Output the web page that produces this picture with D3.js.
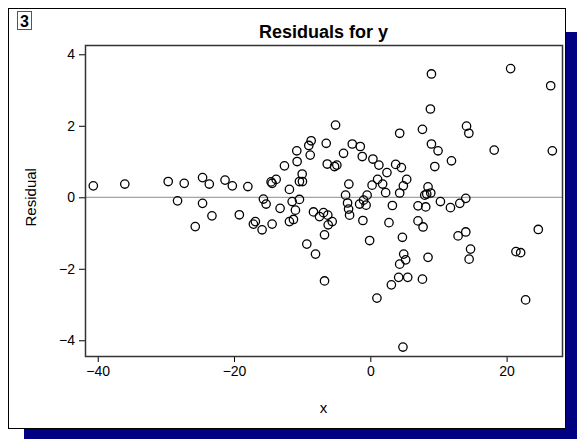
<!DOCTYPE html>
<html>
<head>
<meta charset="utf-8">
<script src="https://cdn.jsdelivr.net/npm/d3@7"></script>
<style>
  body { margin: 0; background: #fff; }
  svg text { font-family: Arial, "Liberation Sans", sans-serif; fill: #000; }
  .tick text { font-size: 14px; }
  .label { font-size: 15px; }
  #title { font-size: 18px; font-weight: bold; }
</style>
</head>
<body>
<div id="container"></div>
<script>
// tick values
var xTicks = [-40, -20, 0, 20];
var yTicks = [-4, -2, 0, 2, 4];

// x of each observation
var xs = [
  -40.65, -36.03, -29.66, -27.31, -24.62, -23.63, -21.32, -20.25, -17.97, -28.29,
  -24.62, -23.24, -19.22, -25.69, -17.16, -16.87, -15.88, -14.41, -15.69, -15.29,
  -14.56, -14.41, -13.82, -13.24, -12.60, -11.87, -11.47, -10.99, -10.79, -10.74,
  -10.40, -10.00, -9.96, -10.40, -9.03, -8.68, -8.82, -8.34, -11.87, -11.28,
  -7.46, -6.87, -6.24, -5.59, -6.18, -6.72, -9.32, -8.04, -6.72, -6.47,
  -6.32, -5.25, -4.91, -5.10, -3.93, -3.63, -3.34, -3.19, -3.04, -3.15,
  -2.65, -1.47, -1.18, -1.57, -0.99, -0.62, -0.47, -1.09, -0.10, 0.38,
  1.26, 2.44, 1.07, 1.81, 0.26, 2.25, 0.97, 2.74, 3.24, 3.72,
  4.56, 4.31, 4.31, 5.34, 4.85, 4.71, 4.90, 5.19, 4.31, 4.16,
  5.49, 3.09, 4.79, 7.00, 8.13, 7.00, 7.74, 7.65, 8.47, 7.65,
  8.82, 8.97, 8.97, 9.94, 9.46, 11.91, 8.47, 7.99, 8.28, 8.87,
  10.29, 11.76, 13.13, 14.01, 12.88, 14.01, 14.71, 14.50, 14.12, 14.46,
  18.18, 20.59, 26.47, 26.71, 24.65, 21.37, 22.06, 22.79
];

// residual for each observation, same order as xs
var residuals = [
  0.32, 0.37, 0.44, 0.39, 0.55, 0.37, 0.48, 0.32, 0.30, -0.10,
  -0.17, -0.52, -0.49, -0.82, -0.75, -0.68, -0.91, -0.75, -0.05, -0.19,
  0.43, 0.39, 0.50, -0.31, 0.88, 0.22, -0.12, -0.36, 1.30, 1.00,
  0.44, 0.65, 0.44, -0.06, 1.45, 1.58, 1.18, -0.41, -0.68, -0.62,
  -0.54, -0.43, -0.50, -0.68, -0.77, -1.05, -1.31, -1.59, -2.34, 1.51,
  0.93, 0.86, 0.90, 2.02, 1.23, 0.06, -0.16, -0.33, -0.50, 0.37,
  1.49, 1.42, 1.14, -0.19, -0.08, -0.22, 0.06, -0.65, -1.21, 1.07,
  0.90, 0.69, 0.50, 0.37, 0.34, 0.13, -2.82, -0.71, -0.23, 0.92,
  0.83, 1.79, 0.12, 0.50, 0.32, -1.12, -1.59, -1.75, -1.87, -2.24,
  -2.24, -2.45, -4.19, -0.24, -0.27, -0.66, -0.83, -2.29, -1.68, 1.90,
  2.47, 3.45, 1.49, 1.30, 0.86, 1.02, 0.29, 0.06, 0.09, 0.12,
  -0.12, -0.29, -0.17, -0.03, -1.08, -0.97, -1.45, -1.73, 1.99, 1.79,
  1.32, 3.60, 3.12, 1.30, -0.90, -1.52, -1.55, -2.87
];

var data = xs.map(function (x, i) { return { x: x, r: residuals[i] }; });

var width = 577;
var height = 439;
var margin = { left: 85, top: 45, right: 15, bottom: 83 };

var svg = d3.select("#container")
            .append("svg")
            .attr("width", width)
            .attr("height", height);

// panel with navy drop shadow
svg.append("rect")
   .attr("x", 24).attr("y", 32)
   .attr("width", width - 24).attr("height", height - 32)
   .attr("fill", "#000080");

svg.append("rect")
   .attr("x", 8.5).attr("y", 8.5)
   .attr("width", 557).attr("height", 420)
   .attr("fill", "#fff")
   .attr("stroke", "#000")
   .attr("stroke-width", 1);

// little "3" badge in the corner
svg.append("rect")
   .attr("x", 17.5).attr("y", 11.5)
   .attr("width", 14).attr("height", 18)
   .attr("fill", "#fff")
   .attr("stroke", "#555");

svg.append("text")
   .attr("x", 24.5).attr("y", 27)
   .attr("text-anchor", "middle")
   .style("font-size", "16px")
   .style("font-weight", "bold")
   .text("3");

// scales
var xScale = d3.scaleLinear()
               .domain([-41.87, 28.13])
               .range([margin.left, width - margin.right]);

var yScale = d3.scaleLinear()
               .domain([-4.44, 4.26])
               .range([height - margin.bottom, margin.top]);

// axes
var xAxis = d3.axisBottom(xScale).tickValues(xTicks).tickSize(6).tickPadding(4);
var yAxis = d3.axisLeft(yScale).tickValues(yTicks).tickSize(6).tickPadding(4);

svg.append("g")
   .attr("transform", "translate(0," + (height - margin.bottom) + ")")
   .call(xAxis)
   .call(g => g.select(".domain").remove());

svg.append("g")
   .attr("transform", "translate(" + margin.left + ",0)")
   .call(yAxis)
   .call(g => g.select(".domain").remove());

// zero reference line
svg.append("line")
   .attr("x1", margin.left).attr("x2", width - margin.right)
   .attr("y1", yScale(0)).attr("y2", yScale(0))
   .attr("stroke", "#8c8c8c")
   .attr("stroke-width", 1);

// plot frame
svg.append("rect")
   .attr("x", margin.left + 0.5).attr("y", margin.top + 0.5)
   .attr("width", width - margin.left - margin.right)
   .attr("height", height - margin.top - margin.bottom)
   .attr("fill", "none")
   .attr("stroke", "#333")
   .attr("stroke-width", 1.5);

// points
svg.selectAll("circle.dot")
   .data(data)
   .enter()
   .append("circle")
   .attr("class", "dot")
   .attr("cx", d => xScale(d.x))
   .attr("cy", d => yScale(d.r))
   .attr("r", 4.2)
   .attr("fill", "none")
   .attr("stroke", "#000")
   .attr("stroke-width", 1.3);

// titles
svg.append("text")
   .attr("id", "title")
   .attr("x", (margin.left + width - margin.right) / 2)
   .attr("y", 38)
   .attr("text-anchor", "middle")
   .text("Residuals for y");

svg.append("text")
   .attr("class", "label")
   .attr("x", (margin.left + width - margin.right) / 2)
   .attr("y", 413)
   .attr("text-anchor", "middle")
   .text("x");

svg.append("text")
   .attr("class", "label")
   .attr("transform", "translate(36," + yScale(0) + ") rotate(-90)")
   .attr("text-anchor", "middle")
   .text("Residual");
</script>
</body>
</html>
